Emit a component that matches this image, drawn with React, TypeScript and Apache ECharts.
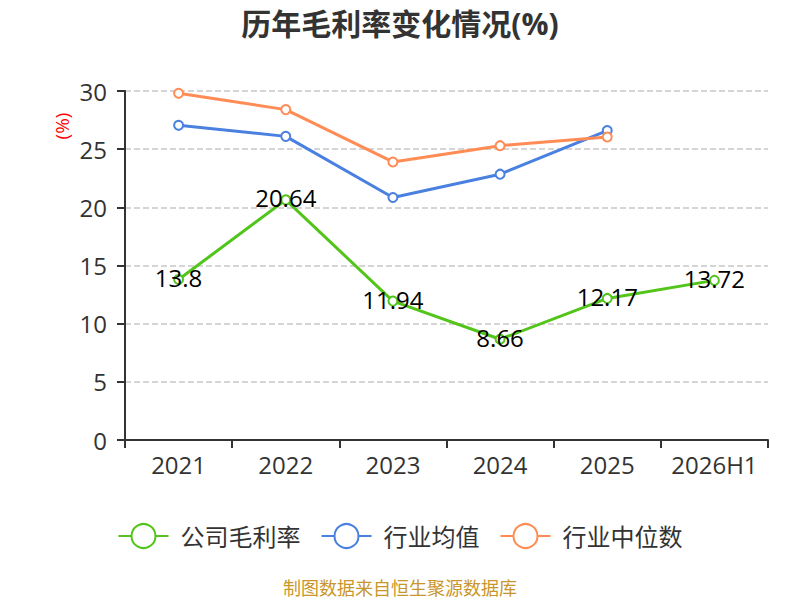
import React, { useEffect, useRef } from "react";
import * as echarts from "echarts";

const categories = ["2021", "2022", "2023", "2024", "2025", "2026H1"];
const companyMargin = [13.8, 20.64, 11.94, 8.66, 12.17, 13.72];
const industryMean = [27.05, 26.1, 20.85, 22.85, 26.6, null];
const industryMedian = [29.8, 28.4, 23.9, 25.3, 26.05, null];
const yTicks = { min: 0, max: 30, interval: 5 };

export default function App() {
  const ref = useRef<HTMLDivElement>(null);
  useEffect(() => {
    if (!ref.current) return;
    const chart = echarts.init(ref.current, undefined, { renderer: "svg" });
    const font = "'Open Sans', 'Noto Sans CJK SC', sans-serif";
    const mk = (name: string, data: any[], color: string, label: boolean) => ({
      name,
      type: "line",
      data,
      symbol: "circle",
      symbolSize: 9,
      lineStyle: { width: 3, color },
      itemStyle: { color: "#fff", borderColor: color, borderWidth: 2 },
      label: label
        ? { show: true, position: "inside", color: "#000", fontSize: 24, fontFamily: font, offset: [0, -2] }
        : { show: false },
      connectNulls: false,
    });
    chart.setOption({
      animation: false,
      textStyle: { fontFamily: font },
      title: {
        text: "历年毛利率变化情况(%)",
        left: "center",
        top: 3,
        textStyle: { fontSize: 30, fontWeight: "bold", color: "#333", fontFamily: font },
      },
      color: ["#52c41a", "#4a80e0", "#ff8c55"],
      legend: {
        bottom: 46,
        left: "center",
        itemWidth: 50,
        itemHeight: 30,
        itemGap: 20,
        textStyle: { fontSize: 24, color: "#333", fontFamily: font, padding: [0, 0, 0, 7] },
        data: ["公司毛利率", "行业均值", "行业中位数"],
      },
      grid: { left: 125, right: 32, top: 91, bottom: 160 },
      xAxis: {
        type: "category",
        data: categories,
        axisLine: { lineStyle: { color: "#333", width: 2 } },
        axisTick: { show: true, length: 8, lineStyle: { color: "#333", width: 2 } },
        axisLabel: { fontSize: 24, color: "#333", margin: 12, interval: 0, fontFamily: font },
      },
      yAxis: {
        type: "value",
        min: yTicks.min,
        max: yTicks.max,
        interval: yTicks.interval,
        axisLine: { show: true, lineStyle: { color: "#333", width: 2 } },
        axisTick: { show: true, length: 8, lineStyle: { color: "#333", width: 2 } },
        axisLabel: { fontSize: 24, color: "#333", margin: 18, fontFamily: font },
        splitLine: { lineStyle: { color: "#c8c8c8", type: "dashed", width: 1.5 } },
      },
      graphic: [
        {
          type: "text",
          x: 62,
          y: 126,
          rotation: Math.PI / 2,
          style: { text: "(%)", fill: "#ff0000", fontSize: 19, fontFamily: font, align: "center", verticalAlign: "middle" },
        },
        {
          type: "text",
          left: "center",
          top: 579,
          style: { text: "制图数据来自恒生聚源数据库", fill: "#c8962c", fontSize: 18, fontFamily: font },
        },
      ],
      series: [
        mk("公司毛利率", companyMargin, "#52c41a", true),
        mk("行业均值", industryMean, "#4a80e0", false),
        mk("行业中位数", industryMedian, "#ff8c55", false),
      ],
    });
    return () => chart.dispose();
  }, []);
  return <div ref={ref} style={{ width: 800, height: 600, position: "absolute", left: 0, top: 0 }} />;
}
